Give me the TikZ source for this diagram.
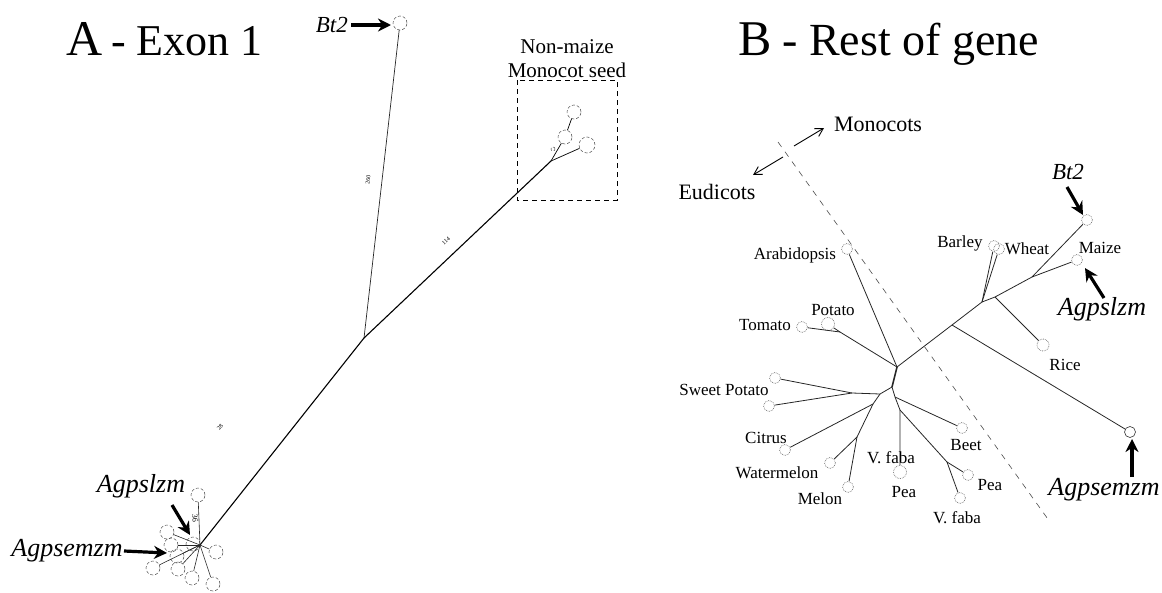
\documentclass[tikz,border=0pt]{standalone}
\usepackage{fontspec}
\setmainfont{Liberation Serif}
\usetikzlibrary{arrows.meta}
\begin{document}
\begin{tikzpicture}[x=1pt,y=-1pt,
  leafA/.style={circle,draw=black!70,densely dashed,line width=0.5pt,minimum size=14pt,inner sep=0pt},
  leafB/.style={circle,draw=black!55,densely dotted,line width=0.7pt,minimum size=11pt,inner sep=0pt},
  br/.style={line width=0.8pt,black!85},
  brA/.style={line width=1.1pt,black},
  lbl/.style={inner sep=0pt,font=\fontsize{17}{17}\selectfont},
  big/.style={inner sep=0pt,font=\fontsize{22}{22}\selectfont},
  gene/.style={inner sep=0pt,font=\fontsize{26}{26}\selectfont\itshape},
  fat/.style={line width=3.2pt,-{Stealth[length=13pt,width=13pt]}},
  thinarr/.style={line width=0.9pt,-{Straight Barb[length=8pt,width=9pt]}},
  tiny/.style={inner sep=0pt,font=\fontsize{6}{6}\selectfont},
]
\useasboundingbox (0,0) rectangle (1162,592);

% ================= Panel A =================
\node[anchor=base west,inner sep=0pt,font=\fontsize{50}{50}\selectfont] (tA) at (66,55) {A};
\node[anchor=base west,inner sep=0pt,font=\fontsize{44}{44}\selectfont] (tA2) at (111,55) {- Exon 1};

% Bt2
\node[leafA] (bt2A) at (400,23) {};
\node[inner sep=0pt,anchor=base east,font=\fontsize{23}{23}\selectfont\itshape] (bt2Alab) at (348,32) {Bt2};
\draw[fat] (351,25) coordinate (bt2As) -- (391,25) coordinate (bt2Ae);

% junctions
\coordinate (jA1) at (364,338);
\coordinate (jSeed) at (551,161);
\coordinate (jBot) at (200,545);

\draw[line width=0.7pt,black!85] (bt2A) -- (jA1);
\draw[brA] (jBot) -- (jA1) -- (jSeed);

\node[tiny,rotate=83] (l260) at (368,180) {260};
\node[tiny,rotate=43] (l114) at (446,241) {114};
\node[tiny,rotate=52] (l28) at (220,427) {28};

% seed cluster
\draw[line width=0.6pt,dash pattern=on 5pt off 4pt] (517,80) rectangle (617,200);
\node[inner sep=0pt,anchor=base,font=\fontsize{21}{21}\selectfont] (nm) at (567,53) {Non-maize};
\node[inner sep=0pt,anchor=base,font=\fontsize{21}{21}\selectfont] (ms) at (567,77) {Monocot seed};
\node[leafA,minimum size=14pt] (s1) at (574,112) {};
\node[leafA,minimum size=14pt] (s2) at (565,137) {};
\node[leafA,minimum size=16pt] (s3) at (587,145) {};
\node[leafA,minimum size=4pt] (s4) at (553,149) {};
\draw[brA,line width=0.7pt] (jSeed) -- (s2) -- (s1);
\draw[brA,line width=0.7pt] (jSeed) -- (s3);

% bottom cluster
\node[leafA] (b0) at (198,495) {};
\node[leafA] (b1) at (167,532) {};
\node[leafA] (b2) at (171,545) {};
\node[leafA] (b3) at (193,544) {};
\node[leafA] (b4) at (177,556) {};
\node[leafA] (b5) at (216,552) {};
\node[leafA] (b6) at (153,568) {};
\node[leafA] (b7) at (178,569) {};
\node[leafA] (b8) at (192,578) {};
\node[leafA] (b9) at (213,584) {};
\foreach \b in {b0,b1,b2,b3,b4,b5,b6,b7,b8,b9} \draw[line width=0.6pt,black!85] (jBot) -- (\b);
\node[tiny,rotate=-85,font=\fontsize{8}{8}\selectfont] (l36) at (195,518) {36};

\node[gene] (aslA) at (141,486) {Agpslzm};
\draw[fat] (172,505) coordinate (aslAs) -- (190,535) coordinate (aslAe);
\node[gene] (asmA) at (67,551) {Agpsemzm};
\draw[fat] (124,551) coordinate (asmAs) -- (167,553) coordinate (asmAe);

% ================= Panel B =================
\node[anchor=base west,inner sep=0pt,font=\fontsize{50}{50}\selectfont] (tB) at (738,55) {B};
\node[anchor=base west,inner sep=0pt,font=\fontsize{46}{46}\selectfont] (tB2) at (782,55) {- Rest of gene};

\node[big] (mono) at (878,124) {Monocots};
\node[big] (eudi) at (717,192) {Eudicots};
\coordinate (ea) at (783,157);
\coordinate (ma) at (794,146);
\draw[thinarr] (ea) -- (753,175) coordinate (eae);
\draw[thinarr] (ma) -- (824,128) coordinate (mae);
\coordinate (dtop) at (778,142);
\coordinate (dbot) at (1050,522);
\draw[black!70,line width=0.6pt,dash pattern=on 6pt off 6pt] (dtop) -- (dbot);

% leaves
\node[leafB] (arab) at (847,249) {};
\node[leafB] (tom) at (802,327) {};
\node[leafB,minimum size=13pt] (pot) at (828,324) {};
\node[leafB] (sp1) at (775,378) {};
\node[leafB] (sp2) at (769,406) {};
\node[leafB] (cit) at (785,450) {};
\node[leafB] (wat) at (830,463) {};
\node[leafB] (mel) at (848,487) {};
\node[leafB,minimum size=13pt] (pea1) at (900,472) {};
\node[leafB] (beet) at (962,428) {};
\node[leafB] (pea2) at (968,475) {};
\node[leafB] (vf2) at (960,498) {};
\node[leafB] (barley) at (994,246) {};
\node[leafB] (wheat) at (999,249) {};
\node[leafB] (bt2B) at (1087,220) {};
\node[leafB] (maize) at (1077,260) {};
\node[leafB,minimum size=12pt] (rice) at (1043,345) {};
\node[circle,draw=black!80,line width=0.6pt,minimum size=11pt,inner sep=0pt] (agse) at (1130,432) {};

% junctions
\coordinate (J1) at (897,367);
\coordinate (T) at (840,332);
\coordinate (J2) at (892,387);
\coordinate (S) at (852,393);
\coordinate (K) at (880,394);
\coordinate (C1) at (873,404);
\coordinate (W) at (857,437);
\coordinate (J3) at (895,397);
\coordinate (P) at (900,410);
\coordinate (J4) at (947,462);
\coordinate (Mo) at (952,325);
\coordinate (M) at (982,302);
\coordinate (R) at (995,297);
\coordinate (Z) at (1032,277);

\draw[br] (J1) -- (arab);
\draw[br] (J1) -- (T) -- (tom);
\draw[br] (T) -- (pot);
\draw[br,line width=1.6pt] (J1) -- (J2);
\draw[br] (J1) -- (Mo) -- (agse);
\draw[br] (Mo) -- (M) -- (barley);
\draw[br] (M) -- (wheat);
\draw[br] (M) -- (R) -- (rice);
\draw[br] (R) -- (Z) -- (bt2B);
\draw[br] (Z) -- (maize);
\draw[br] (J2) -- (K) -- (S) -- (sp1);
\draw[br] (S) -- (sp2);
\draw[br] (K) -- (C1) -- (cit);
\draw[br] (C1) -- (W) -- (wat);
\draw[br] (W) -- (mel);
\draw[br] (J2) -- (J3) -- (P) -- (pea1);
\draw[br] (P) -- (J4) -- (pea2);
\draw[br] (J4) -- (vf2);
\draw[br] (J3) -- (beet);

% labels
\node[lbl] (larab) at (795,255) {Arabidopsis};
\node[lbl] (ltom) at (765,325) {Tomato};
\node[lbl] (lpot) at (833,310) {Potato};
\node[lbl] (lsp) at (724,390) {Sweet Potato};
\node[lbl] (lcit) at (766,438) {Citrus};
\node[lbl] (lwat) at (777,473) {Watermelon};
\node[lbl] (lmel) at (820,499) {Melon};
\node[lbl] (lvf1) at (891,458) {V. faba};
\node[lbl] (lpea1) at (904,492) {Pea};
\node[lbl] (lbeet) at (966,445) {Beet};
\node[lbl] (lpea2) at (990,485) {Pea};
\node[lbl] (lvf2) at (957,518) {V. faba};
\node[lbl] (lbar) at (960,243) {Barley};
\node[lbl] (lwhe) at (1027,249) {Wheat};
\node[lbl] (lmai) at (1100,248) {Maize};
\node[lbl] (lric) at (1065,365) {Rice};

\node[inner sep=0pt,font=\fontsize{23}{23}\selectfont\itshape] (bt2Blab) at (1068,172) {Bt2};
\draw[fat] (1067,187) coordinate (bt2Bs) -- (1083,215) coordinate (bt2Be);
\node[gene] (aslB) at (1102,309) {Agpslzm};
\draw[fat] (1104,298) coordinate (aslBs) -- (1085,268) coordinate (aslBe);
\node[gene] (asmB) at (1104,490) {Agpsemzm};
\draw[fat] (1132,477) coordinate (asmBs) -- (1132,439) coordinate (asmBe);

\end{tikzpicture}
\end{document}
